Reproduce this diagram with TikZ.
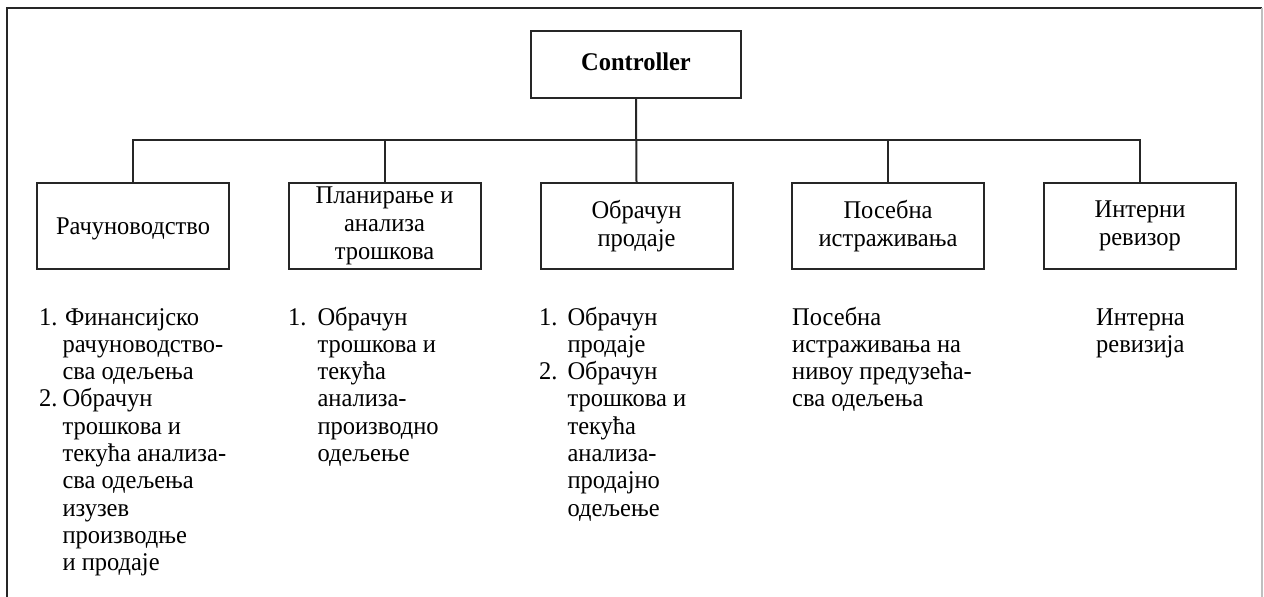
\documentclass[tikz,border=0pt]{standalone}
\usepackage{fontspec}
\setmainfont{Liberation Serif}[FakeStretch=0.96]
\newcommand{\mytxt}{\fontsize{25.5}{27.3}\selectfont}
\newcommand{\boxtxt}{\fontsize{25.5}{28}\selectfont}
\newcommand{\numlist}[2]{\begin{tabular}[t]{@{}l@{\hspace{#1}}l@{}}#2\end{tabular}}
\tikzset{
  unitbox/.style={draw=black!85, line width=2pt, minimum width=192pt, minimum height=86pt,
    inner sep=0pt, align=center, font=\boxtxt},
  topbox/.style={draw=black!85, line width=2.2pt, minimum width=210pt, minimum height=67pt,
    inner sep=0pt, font=\mytxt\bfseries},
  link/.style={draw=black!85, line width=2pt},
  listtxt/.style={inner sep=0pt, anchor=base west, align=left, font=\mytxt},
  frameline/.style={line width=2.4pt, draw=black!85}
}
\begin{document}
\begin{tikzpicture}[x=1pt, y=-1pt]
\useasboundingbox (0,0) rectangle (1264,597);
\fill[white] (0,0) rectangle (1264,597);
% frame
\coordinate (fTL) at (7,8);
\coordinate (fTR) at (1262,8);
\coordinate (fBL) at (7,597);
\coordinate (fBR) at (1262,597);
\draw[frameline] (fBL) -- (fTL) -- (fTR);
\draw[line width=1.5pt, draw=black!25] (fTR) -- (fBR);

% nodes
\node[topbox, text height=11pt, text depth=0pt] (ctrl) at (636,64.5) {Controller};
\node[unitbox, text height=17pt, text depth=0pt] (b1) at (133,226) {Рачуноводство};
\node[unitbox] (b2) at (384.5,226) {Планирање и\\анализа\\трошкова};
\node[unitbox] (b3) at (636.5,226) {Обрачун\\продаје};
\node[unitbox] (b4) at (888,226) {Посебна\\истраживања};
\node[unitbox] (b5) at (1140,226) {Интерни\\ревизор};

\coordinate (bus) at (636.5,140);
\draw[link] (ctrl.south) -- (b3.north);
\draw[link] (b1.north) |- (bus) -| (b5.north);
\draw[link] (b2.north) -- (b2.north |- bus);
\draw[link] (b4.north) -- (b4.north |- bus);

% lists
\node[listtxt] (l1) at (39,325) {\numlist{5pt}{%
1. & \hspace{2.5pt}Финансијско\\
 & рачуноводство-\\
 & сва одељења\\
2. & Обрачун\\
 & трошкова и\\
 & текућа анализа-\\
 & сва одељења\\
 & изузев\\
 & производње\\
 & и продаје}};
\node[listtxt] (l2) at (288,325) {\numlist{11pt}{%
1. & Обрачун\\
 & трошкова и\\
 & текућа\\
 & анализа-\\
 & производно\\
 & одељење}};
\node[listtxt] (l3) at (539,325) {\numlist{10pt}{%
1. & Обрачун\\
 & продаје\\
2. & Обрачун\\
 & трошкова и\\
 & текућа\\
 & анализа-\\
 & продајно\\
 & одељење}};
\node[listtxt] (l4) at (792,325) {\numlist{0pt}{%
Посебна\\
истраживања на\\
нивоу предузећа-\\
сва одељења}};
\node[listtxt] (l5) at (1096,325) {\numlist{0pt}{%
Интерна\\
ревизија}};
\end{tikzpicture}
\end{document}
